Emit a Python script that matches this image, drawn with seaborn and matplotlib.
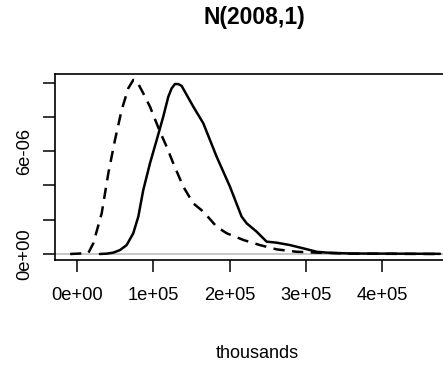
import numpy as np
import pandas as pd
import matplotlib
matplotlib.use("Agg")
import matplotlib.pyplot as plt
import seaborn as sns
from matplotlib import font_manager

# ---- data ----
dashed_x = [-9000, 14800, 21400, 32400, 41100, 49800, 58600, 67200, 73800, 78200,
            86900, 95700, 108800, 117500, 126200, 139300, 152500, 165600, 183100,
            196200, 218000, 239800, 261700, 287900, 314100, 357800, 475800]
dashed_y = [0.0, 0.05, 0.62, 2.37, 4.71, 6.65, 8.40, 9.66, 10.15, 10.10,
            9.37, 8.59, 7.13, 6.26, 5.29, 3.93, 2.95, 2.47, 1.59,
            1.21, 0.82, 0.52, 0.27, 0.13, 0.08, 0.02, 0.0]
solid_x = [30000, 39000, 47600, 56400, 65100, 73800, 80400, 86900, 95700, 104500,
           113100, 119700, 124100, 128400, 132800, 137200, 152500, 165600, 183100,
           200500, 215800, 222400, 235500, 248600, 261700, 279200, 296600, 314100,
           327200, 357800, 475800]
solid_y = [0.0, 0.02, 0.08, 0.23, 0.52, 1.21, 2.18, 3.73, 5.29, 6.65,
           8.01, 9.17, 9.66, 9.91, 9.91, 9.80, 8.59, 7.62, 5.67,
           3.93, 2.18, 1.79, 1.30, 0.72, 0.66, 0.52, 0.33, 0.13,
           0.08, 0.03, 0.01]
x_ticks = [0, 100000, 200000, 300000, 400000]
x_ticklabels = ["0e+00", "1e+05", "2e+05", "3e+05", "4e+05"]
y_ticks = [0, 2e-6, 4e-6, 6e-6, 8e-6, 1e-5]
y_ticklabels = ["0e+00", "", "", "6e-06", "", ""]
title = "N(2008,1)"
xlabel = "thousands"

sns.set_style("white")
avail = {f.name for f in font_manager.fontManager.ttflist}
fam = [f for f in ["Liberation Sans Narrow", "Liberation Sans", "DejaVu Sans"] if f in avail]
plt.rcParams["font.family"] = fam
plt.rcParams["text.color"] = "black"
plt.rcParams["axes.labelcolor"] = "black"

df_d = pd.DataFrame({"x": dashed_x, "y": np.array(dashed_y) * 1e-6})
df_s = pd.DataFrame({"x": solid_x, "y": np.array(solid_y) * 1e-6})

fig = plt.figure(figsize=(4.43, 3.68), dpi=100)
W, H = 443, 368
left, right, bottom, top = 55, 450.8, 260, 74
ax = fig.add_axes([left / W, 1 - bottom / H, (right - left) / W, (bottom - top) / H])

ax.axhline(0, color="#b8b8b8", lw=1.1, zorder=1)
sns.lineplot(data=df_s, x="x", y="y", ax=ax, color="black", lw=1.8, zorder=3)
sns.lineplot(data=df_d, x="x", y="y", ax=ax, color="black", lw=1.8, zorder=3)
ax.lines[-1].set_linestyle((0, (4.5, 3.0)))
for ln in ax.lines[1:]:
    ln.set_solid_joinstyle("round")
    ln.set_dash_joinstyle("round")

ax.set_xlim(-28800, 490000)
ax.set_ylim(-3.5e-7, 1.0496e-5)
ax.set_xticks(x_ticks)
ax.set_xticklabels(x_ticklabels)
ax.set_yticks(y_ticks)
ax.set_yticklabels(y_ticklabels, rotation=90, va="center")
ax.tick_params(axis="both", which="major", bottom=True, left=True, direction="out",
               length=8.5, width=1.1, color="black", labelsize=13.2, labelcolor="black")
ax.tick_params(axis="x", pad=11)
ax.tick_params(axis="y", pad=7)
for s in ax.spines.values():
    s.set_visible(True)
    s.set_color("black")
    s.set_linewidth(1.2)

ax.set_xlabel(xlabel, fontsize=13, color="black")
ax.xaxis.set_label_coords((257 - left) / (right - left), (bottom - 354) / (bottom - top))
ax.xaxis.label.set_va("center")
ax.set_ylabel("")
ax.set_title(title, fontsize=16.5, fontweight="bold", color="black",
             x=(254 - left) / (right - left), y=(bottom - 26) / (bottom - top), va="center")

fig.savefig("out.png", dpi=100)
